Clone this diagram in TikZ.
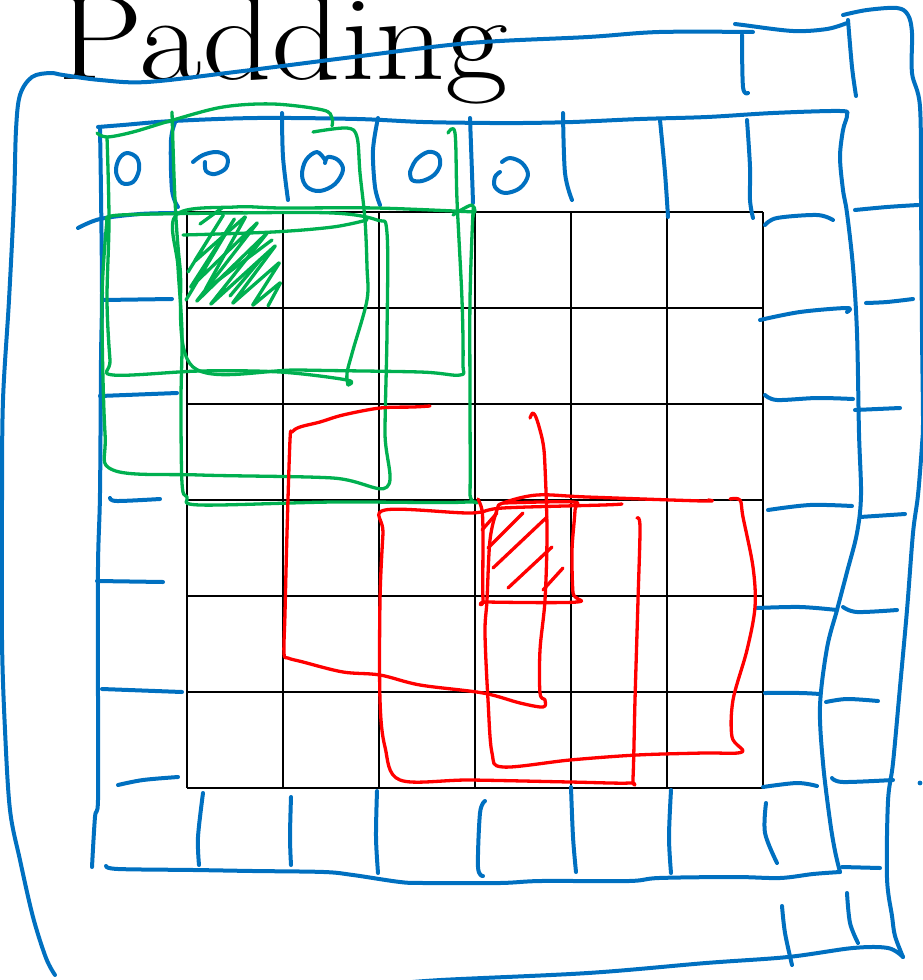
\documentclass[tikz,border=0pt]{standalone}
\usepackage{tikz}
\definecolor{padblue}{HTML}{0070C0}
\definecolor{kergreen}{HTML}{00B050}
\definecolor{focred}{HTML}{FF0000}
\tikzset{
  gridline/.style={draw=black, line width=2.3pt},
  ink/.style={line cap=round, line join=round},
  padink/.style={ink, draw=padblue, line width=4pt},
  kernelink/.style={ink, draw=kergreen, line width=3.3pt},
  focusink/.style={ink, draw=focred, line width=3.3pt},
  title/.style={anchor=base west, inner sep=0pt, font=\fontsize{121}{121}\selectfont}
}

\begin{document}
\begin{tikzpicture}[x=1pt, y=-1pt]
  \useasboundingbox (0,0) rectangle (922,980);

  % input image, 6x6
  \foreach \i in {0,...,6} {
    \draw[gridline] (187+96*\i,212) -- (187+96*\i,788);
    \draw[gridline] (187,212+96*\i) -- (763,212+96*\i);
  }

  \node[title] (caption) at (57,79) {\scalebox{1.127}[1]{Padding}};

  % outer padding ring
  \draw[padink] plot[smooth, tension=.55] coordinates {(55,975) (46,958) (33,917) (20,860) (10,810) (5,730) (2,640) (2,500) (3,400) (9,300) (14,200) (16,130) (20,95) (32,77) (50,73) (63,75) (100,80) (147,82) (235,72) (353,57) (470,43) (588,37) (659,32) (753,32)};
  \draw[padink] plot[smooth, tension=.55] coordinates {(735,24) (743,25) (793,31) (827,29) (847,23)};
  \draw[padink] plot[smooth, tension=.55] coordinates {(742,35) (743,87) (748,93)};
  \draw[padink] plot[smooth, tension=.55] coordinates {(848,20) (852,67) (856,96)};
  \draw[padink] plot[smooth, tension=.55] coordinates {(843,15) (867,10) (897,8) (908,15) (912,33) (912,73) (920,107) (921,200) (922,333) (923,420) (922,445) (918,495) (913,533) (907,610) (900,687) (893,763) (888,801) (887,878) (892,916) (895,936) (903,957)};
  \draw[padink] plot[smooth, tension=.55] coordinates {(903,957) (888,948) (853,948) (788,957) (706,963) (588,973) (441,980) (380,985)};

  % inner padding ring
  \draw[padink] plot[smooth, tension=.55] coordinates {(98,127) (123,125) (173,121) (257,118) (357,119) (423,122) (490,123) (523,123) (573,122) (640,119) (707,117) (773,113) (840,111) (847,115) (843,130) (840,157) (843,190) (847,213) (853,267) (857,333) (859,433) (861,495) (857,533) (847,572) (837,610) (827,648) (820,706) (823,763) (830,821) (835,851) (840,872)};
  \draw[padink] plot[smooth, tension=.55] coordinates {(840,872) (813,874) (780,878) (735,877) (659,878) (629,881) (541,881) (500,883) (424,883) (400,882) (353,875) (324,872) (253,871) (194,870) (118,869) (106,866)};
  \draw[padink] plot[smooth, tension=.55] coordinates {(100,128) (101,193) (102,293) (101,360) (100,493) (98,567) (98,700) (98,800) (95,817) (92,867)};

  % padding cells, top
  \draw[padink] plot[smooth, tension=.55] coordinates {(176,120) (171,140) (172,190) (178,207)};
  \draw[padink] plot[smooth, tension=.55] coordinates {(282,113) (283,157) (288,200)};
  \draw[padink] plot[smooth, tension=.55] coordinates {(378,118) (373,150) (375,187) (380,205)};
  \draw[padink] plot[smooth, tension=.55] coordinates {(470,118) (472,173) (473,203)};
  \draw[padink] plot[smooth, tension=.55] coordinates {(563,113) (565,173) (572,200)};
  \draw[padink] plot[smooth, tension=.55] coordinates {(660,120) (665,173) (668,217)};
  \draw[padink] plot[smooth, tension=.55] coordinates {(747,120) (750,167) (750,200) (753,218)};

  % padding cells, left
  \draw[padink] plot[smooth, tension=.55] coordinates {(78,228) (100,219) (140,214) (177,213)};
  \draw[padink] plot[smooth, tension=.55] coordinates {(103,300) (172,299)};
  \draw[padink] plot[smooth, tension=.55] coordinates {(100,396) (177,393)};
  \draw[padink] plot[smooth, tension=.55] coordinates {(110,498) (117,501) (160,499)};
  \draw[padink] plot[smooth, tension=.55] coordinates {(97,581) (163,582)};
  \draw[padink] plot[smooth, tension=.55] coordinates {(102,689) (182,692)};
  \draw[padink] plot[smooth, tension=.55] coordinates {(118,785) (143,780) (178,777)};

  % padding cells, right
  \draw[padink] plot[smooth, tension=.55] coordinates {(765,225) (777,218) (817,215) (833,220)};
  \draw[padink] plot[smooth, tension=.55] coordinates {(855,210) (887,207) (918,205)};
  \draw[padink] plot[smooth, tension=.55] coordinates {(760,320) (800,312) (847,308) (847,312)};
  \draw[padink] plot[smooth, tension=.55] coordinates {(866,303) (887,302) (913,299)};
  \draw[padink] plot[smooth, tension=.55] coordinates {(765,395) (777,400) (817,398) (853,399)};
  \draw[padink] plot[smooth, tension=.55] coordinates {(855,410) (900,408)};
  \draw[padink] plot[smooth, tension=.55] coordinates {(768,510) (810,505) (852,506)};
  \draw[padink] plot[smooth, tension=.55] coordinates {(860,517) (905,514)};
  \draw[padink] plot[smooth, tension=.55] coordinates {(757,608) (800,607) (837,610)};
  \draw[padink] plot[smooth, tension=.55] coordinates {(843,607) (857,612) (897,610)};
  \draw[padink] plot[smooth, tension=.55] coordinates {(765,693) (800,693) (820,694)};
  \draw[padink] plot[smooth, tension=.55] coordinates {(826,702) (847,699) (878,701)};
  \draw[padink] plot[smooth, tension=.55] coordinates {(763,787) (797,783) (817,786)};
  \draw[padink] plot[smooth, tension=.55] coordinates {(832,778) (843,782) (893,780)};
  \draw[padink] plot[smooth, tension=.55] coordinates {(842,867) (880,868)};
  \fill[padblue] (920,783) circle (2.4pt);

  % padding cells, bottom
  \draw[padink] plot[smooth, tension=.55] coordinates {(203,793) (198,837) (199,865)};
  \draw[padink] plot[smooth, tension=.55] coordinates {(291,797) (290,837) (291,865)};
  \draw[padink] plot[smooth, tension=.55] coordinates {(377,791) (376,837) (378,873)};
  \draw[padink] plot[smooth, tension=.55] coordinates {(485,801) (480,813) (478,867) (483,876)};
  \draw[padink] plot[smooth, tension=.55] coordinates {(571,787) (573,837) (576,872)};
  \draw[padink] plot[smooth, tension=.55] coordinates {(671,790) (669,837) (671,873)};
  \draw[padink] plot[smooth, tension=.55] coordinates {(766,803) (765,833) (777,863)};
  \draw[padink] plot[smooth, tension=.55] coordinates {(782,906) (785,933) (792,965)};
  \draw[padink] plot[smooth, tension=.55] coordinates {(847,893) (850,923) (858,943)};

  % zeros in the top padding row
  \draw[padink] plot[smooth cycle, tension=.6] coordinates {(127,153) (137,158) (139,170) (133,182) (122,183) (116,172) (119,159)};
  \draw[padink] plot[smooth, tension=.6] coordinates {(193,162) (203,155) (217,152) (227,157) (226,168) (215,174) (206,171) (205,162)};
  \draw[padink] plot[smooth, tension=.6] coordinates {(325,160) (317,152) (306,160) (302,175) (307,187) (320,191) (335,184) (343,170) (338,160) (328,157) (325,163)};
  \draw[padink] plot[smooth, tension=.6] coordinates {(410,172) (416,160) (428,152) (438,155) (440,165) (434,175) (422,181) (412,180) (410,172)};
  \draw[padink] plot[smooth, tension=.6] coordinates {(502,162) (510,158) (522,163) (528,175) (520,188) (505,193) (495,187) (495,177) (500,172)};

  % kernels over the corner pixel
  \draw[kernelink] plot[smooth, tension=.55] coordinates {(97,133) (107,137) (133,132) (173,120) (223,107) (273,104) (323,110) (332,118) (332,126)};
  \draw[kernelink] plot[smooth, tension=.55] coordinates {(107,137) (109,220) (107,300) (110,360) (113,375) (200,371) (280,372) (347,380) (348,385)};
  \draw[kernelink] plot[smooth, tension=.55] coordinates {(313,132) (347,128) (357,137) (360,173) (365,220) (367,267) (367,300) (353,350) (347,373) (348,385)};
  \draw[kernelink] plot[smooth, tension=.55] coordinates {(107,220) (120,215) (233,213) (333,213) (377,220) (387,233) (387,333) (385,433) (387,487) (333,478) (200,475) (113,470) (105,433) (102,300) (107,220)};
  \draw[kernelink] plot[smooth, tension=.55] coordinates {(172,112) (175,200) (180,267) (193,367) (300,370) (420,372) (460,375) (463,363) (462,300) (457,200) (455,133) (448,133)};
  \draw[kernelink] plot[smooth, tension=.55] coordinates {(475,212) (376,208) (282,208) (235,207) (176,215) (178,267) (182,333) (181,400) (182,483) (187,497) (200,505) (333,502) (467,502) (470,493) (470,400) (470,300) (473,213) (475,212)};
  \draw[kernelink] plot[smooth, tension=.55] coordinates {(453,215) (472,205) (473,217)};
  \draw[kernelink] plot[smooth, tension=.55] coordinates {(183,235) (273,232) (333,227) (367,220)};
  \draw[kernelink, rounded corners=2pt] (186,300) -- (235,218) -- (190,288) -- (258,222) -- (196,302) -- (268,232) -- (210,305) -- (276,245) -- (232,304) -- (280,262) -- (252,306) -- (281,282) -- (268,306);
  \draw[kernelink, rounded corners=2pt] (188,272) -- (224,214) -- (194,262) -- (246,216) -- (205,290) -- (272,240);
  \draw[kernelink] (200,224) -- (222,208);
  \draw[kernelink] (230,296) -- (262,258);

  % kernels over an inner pixel
  \draw[focusink] plot[smooth, tension=.55] coordinates {(430,406) (413,407) (380,408) (343,415) (320,422) (300,427) (292,432) (290,440) (287,533) (285,613) (284,653) (288,658) (303,662) (343,672) (380,675) (420,685) (483,693) (520,703) (543,707) (545,700) (540,693) (540,650) (545,600) (547,533) (545,467) (543,443) (537,420) (533,413) (530,418)};
  \draw[focusink] plot[smooth, tension=.55] coordinates {(622,504) (603,505) (503,508) (470,513) (385,510) (383,533) (380,600) (380,700) (385,747) (400,780) (470,780) (570,782) (630,783) (633,778) (635,700) (638,600) (640,527) (637,518)};
  \draw[focusink] plot[smooth, tension=.55] coordinates {(708,500) (703,501) (587,497) (537,495) (503,503) (497,510) (490,540) (487,600) (485,633) (488,700) (492,753) (503,767) (570,760) (637,755) (703,753) (742,752) (732,737) (733,700) (747,650) (755,607) (753,567) (743,517) (740,500) (730,499)};
  \draw[focusink] plot[smooth, tension=.5] coordinates {(478,499) (482,510) (483,533) (483,600) (487,602) (577,602) (573,593) (572,550) (575,510) (573,502) (503,503)};
  \draw[focusink] (482,530) -- (497,513);
  \draw[focusink] (488,548) -- (523,513);
  \draw[focusink] (493,568) -- (547,517);
  \draw[focusink] (508,588) -- (552,547);
  \draw[focusink] (543,590) -- (563,568);
\end{tikzpicture}
\end{document}
